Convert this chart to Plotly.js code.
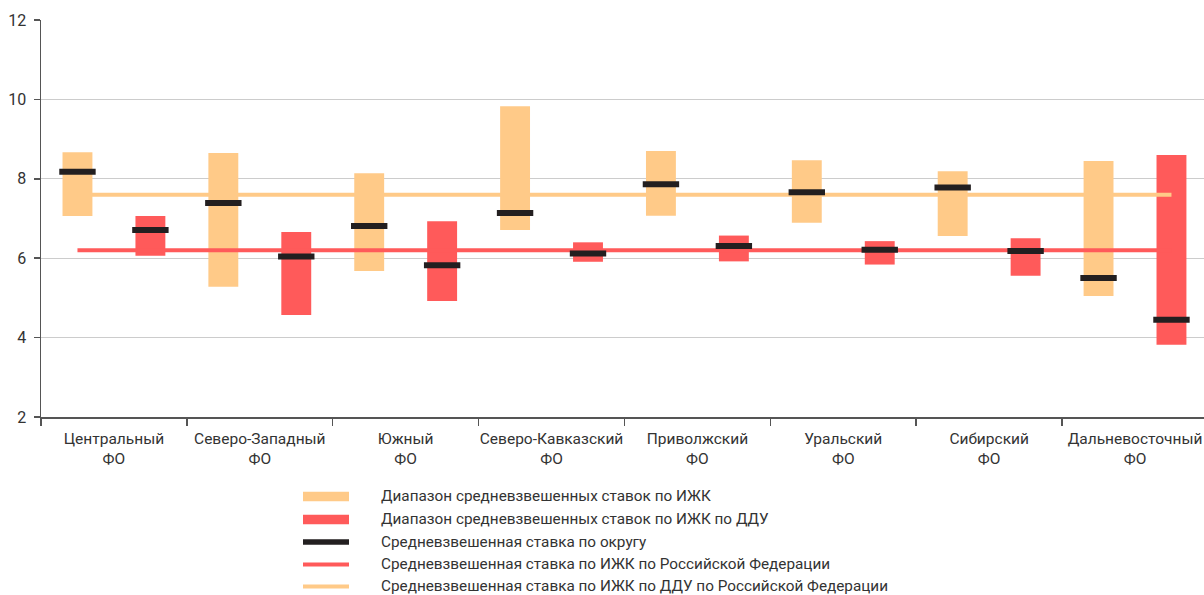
<!DOCTYPE html>
<html>
<head>
<meta charset="utf-8">
<script src="https://cdn.plot.ly/plotly-3.0.1.min.js"></script>
<style>html,body{margin:0;padding:0;background:#fff;}#chart{width:1204px;height:595px;}</style>
</head>
<body>
<div id="chart"></div>
<script>
// ---- data ----
var categories = ["Центральный<br>ФО", "Северо-Западный<br>ФО", "Южный<br>ФО", "Северо-Кавказский<br>ФО",
                  "Приволжский<br>ФО", "Уральский<br>ФО", "Сибирский<br>ФО", "Дальневосточный<br>ФО"];
var izhkLow  = [7.06, 5.28, 5.68, 6.71, 7.07, 6.89, 6.56, 5.05];
var izhkHigh = [8.67, 8.65, 8.14, 9.83, 8.70, 8.47, 8.19, 8.45];
var izhkAvg  = [8.18, 7.39, 6.81, 7.14, 7.86, 7.66, 7.78, 5.50];
var dduLow   = [6.06, 4.57, 4.92, 5.91, 5.92, 5.84, 5.56, 3.82];
var dduHigh  = [7.06, 6.66, 6.93, 6.40, 6.57, 6.43, 6.50, 8.60];
var dduAvg   = [6.71, 6.04, 5.82, 6.12, 6.31, 6.21, 6.18, 4.45];
var rfIzhkAvg = 6.2;
var rfDduAvg  = 7.6;
var yTicks = [2, 4, 6, 8, 10, 12];
var legendLabels = ["Диапазон средневзвешенных ставок по ИЖК",
                    "Диапазон средневзвешенных ставок по ИЖК по ДДУ",
                    "Средневзвешенная ставка по округу",
                    "Средневзвешенная ставка по ИЖК по Российской Федерации",
                    "Средневзвешенная ставка по ИЖК по ДДУ по Российской Федерации"];

// ---- styles ----
var ORANGE = "#FFCA88", RED = "#FF5A5A", BLACK = "#231F20";
var FONT = "Roboto, 'Open Sans', sans-serif";
var idx = categories.map(function(_, i){ return i; });
var xOr = idx.map(function(i){ return i - 0.25; });
var xRd = idx.map(function(i){ return i + 0.25; });
var first = xOr[0], last = xRd[xRd.length - 1];

var traces = [
  {type:"bar", x:xOr, base:izhkLow, y:izhkHigh.map(function(v,i){return v-izhkLow[i];}),
   width:0.205, marker:{color:ORANGE}, showlegend:false, hoverinfo:"skip"},
  {type:"bar", x:xRd, base:dduLow, y:dduHigh.map(function(v,i){return v-dduLow[i];}),
   width:0.205, marker:{color:RED}, showlegend:false, hoverinfo:"skip"},
  {type:"scatter", mode:"lines", x:[first,last], y:[rfIzhkAvg,rfIzhkAvg],
   line:{color:RED, width:4}, showlegend:false, hoverinfo:"skip"},
  {type:"scatter", mode:"lines", x:[first,last], y:[rfDduAvg,rfDduAvg],
   line:{color:ORANGE, width:4}, showlegend:false, hoverinfo:"skip"},
  {type:"scatter", mode:"markers", x:xOr.concat(xRd), y:izhkAvg.concat(dduAvg),
   marker:{symbol:"line-ew", size:26, line:{color:BLACK, width:6}}, showlegend:false, hoverinfo:"skip"}
];

// ---- custom legend (pixel -> paper helpers) ----
var W = 1204, H = 595, mL = 41, mR = 0, mT = 20, mB = 178;
var pw = W - mL - mR, ph = H - mT - mB;
function px(x){ return (x - mL) / pw; }
function py(y){ return (H - mB - y) / ph; }
var rowY = [496.5, 519.5, 542, 564.5, 586.5];
var legendStyles = [
  {color:ORANGE, h:9.5}, {color:RED, h:9.5}, {color:BLACK, h:5.5}, {color:RED, h:3.8}, {color:ORANGE, h:3.8}
];
var shapes = [], annotations = [];
legendLabels.forEach(function(t, i){
  var s = legendStyles[i];
  shapes.push({type:"rect", xref:"paper", yref:"paper", x0:px(303), x1:px(349),
    y0:py(rowY[i] - s.h/2), y1:py(rowY[i] + s.h/2), fillcolor:s.color, line:{width:0}, layer:"above"});
  annotations.push({xref:"paper", yref:"paper", x:px(379), y:py(rowY[i] - 0.5), xanchor:"left", yanchor:"middle",
    text:t, showarrow:false, font:{family:FONT, size:15.3, color:"#333"}});
});

var boundaries = [-0.5].concat(idx.map(function(i){ return i + 0.5; }));

var layout = {
  width:W, height:H, margin:{l:mL, r:mR, t:mT, b:mB, pad:0},
  paper_bgcolor:"#fff", plot_bgcolor:"#fff",
  barmode:"overlay", showlegend:false,
  font:{family:FONT, size:15, color:"#333"},
  xaxis:{range:[-0.5, 7.473], tickmode:"array", tickvals:idx, ticktext:categories,
    ticks:"", showgrid:false, zeroline:false, showline:true, linecolor:"#555", linewidth:1.5,
    tickfont:{family:FONT, size:15.5, color:"#333"}, ticklabelstandoff:7, fixedrange:true},
  xaxis2:{overlaying:"x", matches:"x", range:[-0.5, 7.473], tickmode:"array", tickvals:boundaries,
    ticks:"outside", ticklen:8, tickwidth:1.5, tickcolor:"#555", showticklabels:false,
    showgrid:false, zeroline:false, showline:false, side:"bottom", anchor:"y"},
  yaxis:{range:[2,12], tickmode:"array", tickvals:yTicks, ticks:"outside", ticklen:6, tickwidth:1.5,
    tickcolor:"#555", showline:true, linecolor:"#555", linewidth:1.5, gridcolor:"#cccccc", gridwidth:1.3,
    zeroline:false, tickfont:{family:FONT, size:16, color:"#333"}, ticklabelstandoff:4, fixedrange:true},
  shapes:shapes, annotations:annotations
};
// dummy trace to activate xaxis2
traces.push({type:"scatter", x:[0], y:[2], xaxis:"x2", mode:"markers", marker:{opacity:0}, showlegend:false, hoverinfo:"skip"});

Plotly.newPlot("chart", traces, layout, {displayModeBar:false, staticPlot:true});
</script>
</body>
</html>
